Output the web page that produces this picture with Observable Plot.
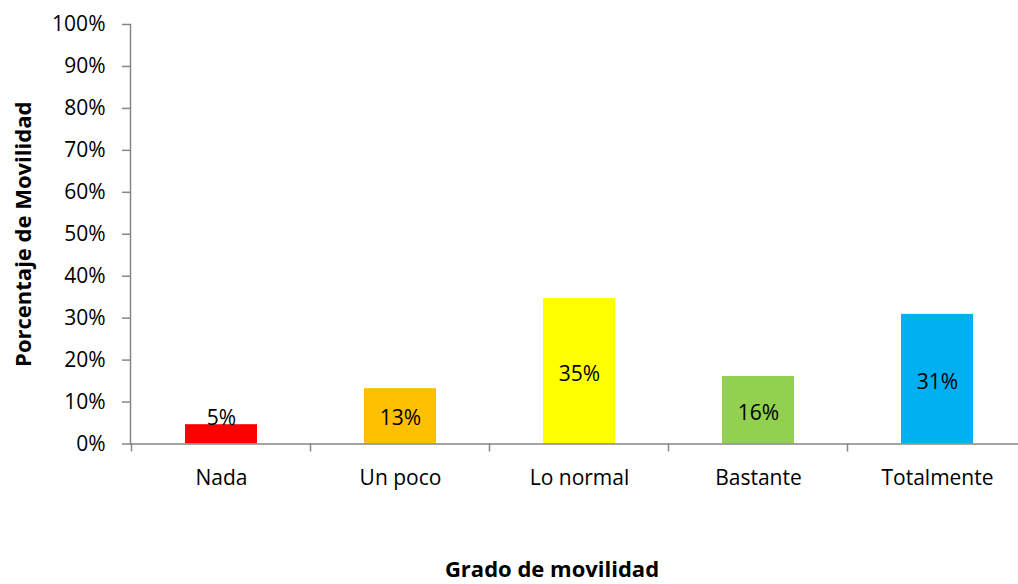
<!DOCTYPE html>
<html>
<head>
<meta charset="utf-8">
<script src="https://cdn.jsdelivr.net/npm/d3@7"></script>
<script src="https://cdn.jsdelivr.net/npm/@observablehq/plot@0.6"></script>
<style>
  html, body { margin: 0; padding: 0; background: white; overflow: hidden; }
  #chart svg { max-width: none !important; display: block; }
  #chart g[aria-label="y-axis tick label"], #chart g[aria-label="x-axis tick label"] { font-size: 21px; }
</style>
</head>
<body>
<div id="chart"></div>
<script>
const categories = ["Nada", "Un poco", "Lo normal", "Bastante", "Totalmente"];
const values = [4.6, 13.2, 34.7, 16.1, 30.9];
const valueLabels = ["5%", "13%", "35%", "16%", "31%"];
const colors = ["#FF0000", "#FFC000", "#FFFF00", "#92D050", "#00B0F0"];
const yTicks = [0, 10, 20, 30, 40, 50, 60, 70, 80, 90, 100];
const yTitle = "Porcentaje de Movilidad";
const xTitle = "Grado de movilidad";

const data = categories.map((c, i) => ({cat: c, value: values[i], label: valueLabels[i], color: colors[i]}));
const gray = "#868686";

const boundaryTicks = (index, scales) => {
  const x = scales.x;
  const step = x(categories[1]) - x(categories[0]);
  const bw = typeof x.bandwidth === "function" ? x.bandwidth() : 0;
  const xs = categories.map(c => x(c) + bw / 2 - step / 2);
  xs.push(x(categories[categories.length - 1]) + bw / 2 + step / 2);
  const y0 = scales.y(0);
  const g = d3.create("svg:g");
  g.selectAll("line").data(xs).join("line")
    .attr("x1", d => d).attr("x2", d => d)
    .attr("y1", y0).attr("y2", y0 + 8)
    .attr("stroke", gray).attr("stroke-width", 1.5);
  return g.node();
};

const chart = Plot.plot({
  width: 1027,
  height: 584,
  marginLeft: 130,
  marginRight: 0,
  marginTop: 24,
  marginBottom: 140.5,
  style: {fontFamily: "'Open Sans', sans-serif", fontSize: "21px", color: "black", background: "white"},
  x: {domain: categories, paddingInner: 0.6, paddingOuter: 0.3},
  y: {domain: [0, 100]},
  marks: [
    Plot.barY(data, {x: "cat", y: "value", fill: "color"}),
    Plot.frame({anchor: "left", stroke: gray, strokeWidth: 1.5}),
    Plot.ruleY([0], {stroke: gray, strokeWidth: 1.5}),
    Plot.axisY(yTicks, {tickSize: 8, tickPadding: 17, tickFormat: d => d + "%", stroke: gray, fill: "black", strokeWidth: 1.5, fontSize: 21, label: null}),
    Plot.axisX({tickSize: 0, tickPadding: 26, fill: "black", fontSize: 21, label: null}),
    boundaryTicks,
    Plot.text(data, {x: "cat", y: d => Math.max(d.value / 2, 6.8), dy: 3, text: "label", fontSize: 21, fill: "black"}),
    Plot.text([yTitle], {frameAnchor: "left", dx: -107, rotate: -90, textAnchor: "middle", fontWeight: "bold", fontSize: 22, fill: "black", lineAnchor: "middle"}),
    Plot.text([xTitle], {frameAnchor: "bottom", dy: 126, dx: -27, textAnchor: "middle", fontWeight: "bold", fontSize: 22, fill: "black", lineAnchor: "middle"})
  ]
});
document.getElementById("chart").appendChild(chart);
</script>
</body>
</html>
